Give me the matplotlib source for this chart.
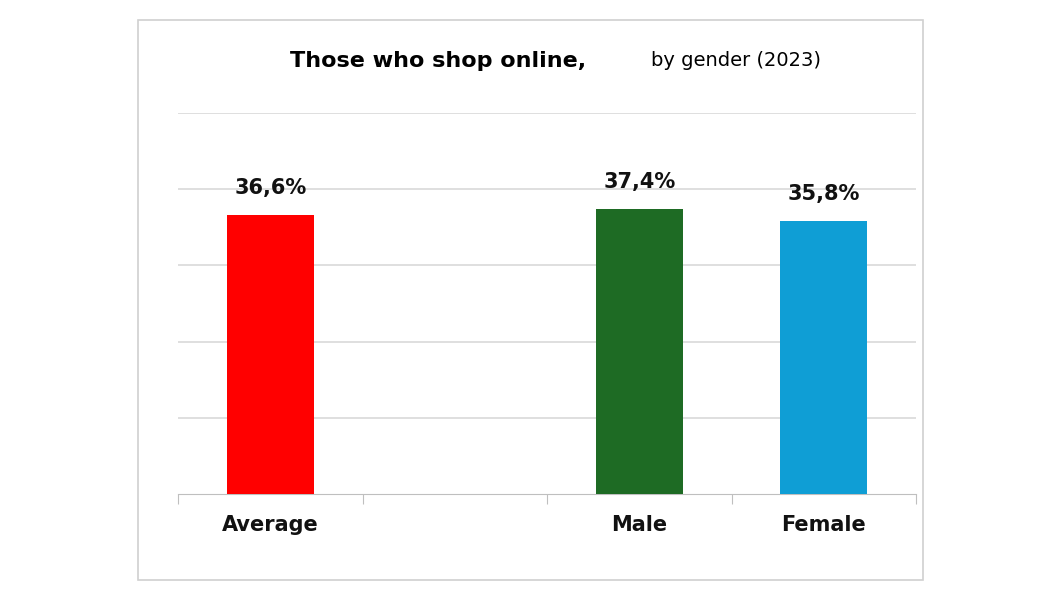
import matplotlib
matplotlib.use("Agg")
import matplotlib.pyplot as plt
from matplotlib.patches import Rectangle

categories = ["Average", "", "Male", "Female"]
values = [36.6, None, 37.4, 35.8]
labels = ["36,6%", "", "37,4%", "35,8%"]
colors = ["#ff0000", "#ffffff", "#1e6b24", "#0f9ed5"]

W, H = 1053, 593
fig = plt.figure(figsize=(W/100, H/100), dpi=100)
fig.patches.append(Rectangle((138/W, 1-580/H), (923-138)/W, (580-20)/H,
                             transform=fig.transFigure, fill=False, ec="#d0d0d0", lw=1.2))
ax = fig.add_axes([178/W, 1-494/H, (916-178)/W, (494-113)/H])
x = list(range(len(categories)))
for i, v in enumerate(values):
    if v is None:
        continue
    ax.bar(i, v, width=0.47, color=colors[i], zorder=3)
    ax.text(i, v + 2.2, labels[i], ha="center", va="bottom", fontsize=15, fontweight="bold", color="#111111")
ax.set_xlim(-0.5, 3.5)
ax.set_ylim(0, 50)
ax.set_yticks([10, 20, 30, 40, 50])
ax.yaxis.grid(True, color="#d9d9d9", lw=1.2, zorder=0)
ax.tick_params(axis="y", length=0, labelleft=False)
for s in ["top", "right", "left"]:
    ax.spines[s].set_visible(False)
ax.spines["bottom"].set_color("#bfbfbf")
ax.set_xticks([-0.5, 0.5, 1.5, 2.5, 3.5])
ax.set_xticklabels([])
ax.tick_params(axis="x", length=7, color="#bfbfbf", direction="out")
for i, c in enumerate(categories):
    if c:
        ax.text(i, -2.8, c, ha="center", va="top", fontsize=15, fontweight="bold",
                color="#111111", transform=ax.transData)
fig.text(290/W, 1-61/H, "Those who shop online,", fontsize=16, fontweight="bold", va="center", ha="left")
fig.text(651/W, 1-61/H, "by gender (2023)", fontsize=14, va="center", ha="left")
fig.savefig("out.png", dpi=100)
